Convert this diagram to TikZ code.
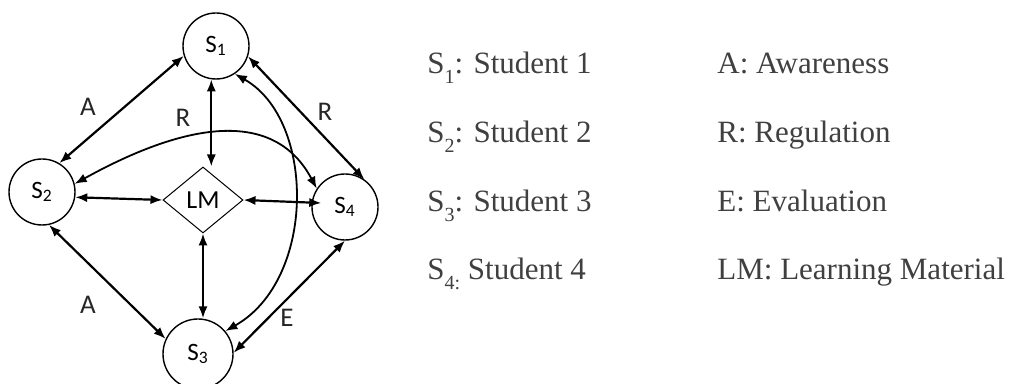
\documentclass[tikz,border=0pt]{standalone}
\usepackage{fontspec}
\setmainfont{Liberation Serif}
\newfontfamily\calibfont{Carlito}
\usepackage{xcolor}
\usetikzlibrary{arrows.meta,shapes.geometric}
\definecolor{keygray}{RGB}{64,64,64}
\newcommand\lowsub[1]{\raisebox{-0.3em}{\fontsize{10}{12}\selectfont #1}}

\begin{document}
\begin{tikzpicture}[x=0.5pt,y=-0.5pt,>={Latex[length=6pt,width=4.6pt]},
    student/.style={circle,draw,line width=0.7pt,minimum size=33pt,inner sep=0pt,font=\calibfont\fontsize{12.5}{14}\selectfont},
    material/.style={diamond,draw,line width=0.5pt,minimum width=40pt,minimum height=33pt,inner sep=0pt,font=\calibfont\fontsize{13}{15}\selectfont},
    link/.style={<->,line width=1.1pt},
    curvelink/.style={<->,line width=0.9pt},
    lab/.style={font=\calibfont\fontsize{13.5}{15}\selectfont,text=black!85},
    key/.style={anchor=base west,inner sep=0pt,font=\fontsize{15.5}{19}\selectfont,text=keygray}]
  \useasboundingbox (0,0) rectangle (1013,384);
  % students and material
  \node[student] (s1) at (216,46) {S\textsubscript{1}};
  \node[student] (s2) at (42,192) {S\textsubscript{2}};
  \node[student,minimum size=35pt] (s3) at (198,354) {S\textsubscript{3}};
  \node[student] (s4) at (345,207) {S\textsubscript{4}};
  \node[material] (lm) at (203,200) {LM};
  % outer links
  \draw[link] (s1.197) -- (s2.59);
  \draw[link] (s2.-78) -- (s3.155);
  \draw[link] (s1.-18) -- (s4.55);
  \draw[link] (s3.2) -- (s4.-90);
  % links to LM
  \draw[link] (s1.-98) -- (s1.-98 |- lm.north);
  \draw[link] (lm.south) -- (lm.south |- s3.north);
  \draw[link] (s2.-9) -- (lm.west);
  \draw[link] (lm.east) -- ([xshift=5pt,yshift=2pt]s4.west);
  % curved links
  \draw[curvelink] (s2.14) .. controls (190,120) and (275,110) .. (s4.147);
  \draw[curvelink] (s1.-56) .. controls (316,120) and (316,280) .. (s3.40);
  % labels
  \node[lab] (la1) at (88,107) {A};
  \node[lab] (la2) at (88,305) {A};
  \node[lab] (lr1) at (183,118) {R};
  \node[lab] (lr2) at (325,112) {R};
  \node[lab] (le) at (287,318) {E};
  % key
  \node[key] (k1) at (427,74) {S\lowsub{1}: Student 1};
  \node[key] (k2) at (427,143) {S\lowsub{2}: Student 2};
  \node[key] (k3) at (427,212) {S\lowsub{3}: Student 3};
  \node[key] (k4) at (427,280) {S\lowsub{4:} Student 4};
  \node[key] (k5) at (717,74) {A: Awareness};
  \node[key] (k6) at (717,143) {R: Regulation};
  \node[key] (k7) at (717,212) {E: Evaluation};
  \node[key] (k8) at (717,280) {LM: Learning Material};
\end{tikzpicture}
\end{document}
